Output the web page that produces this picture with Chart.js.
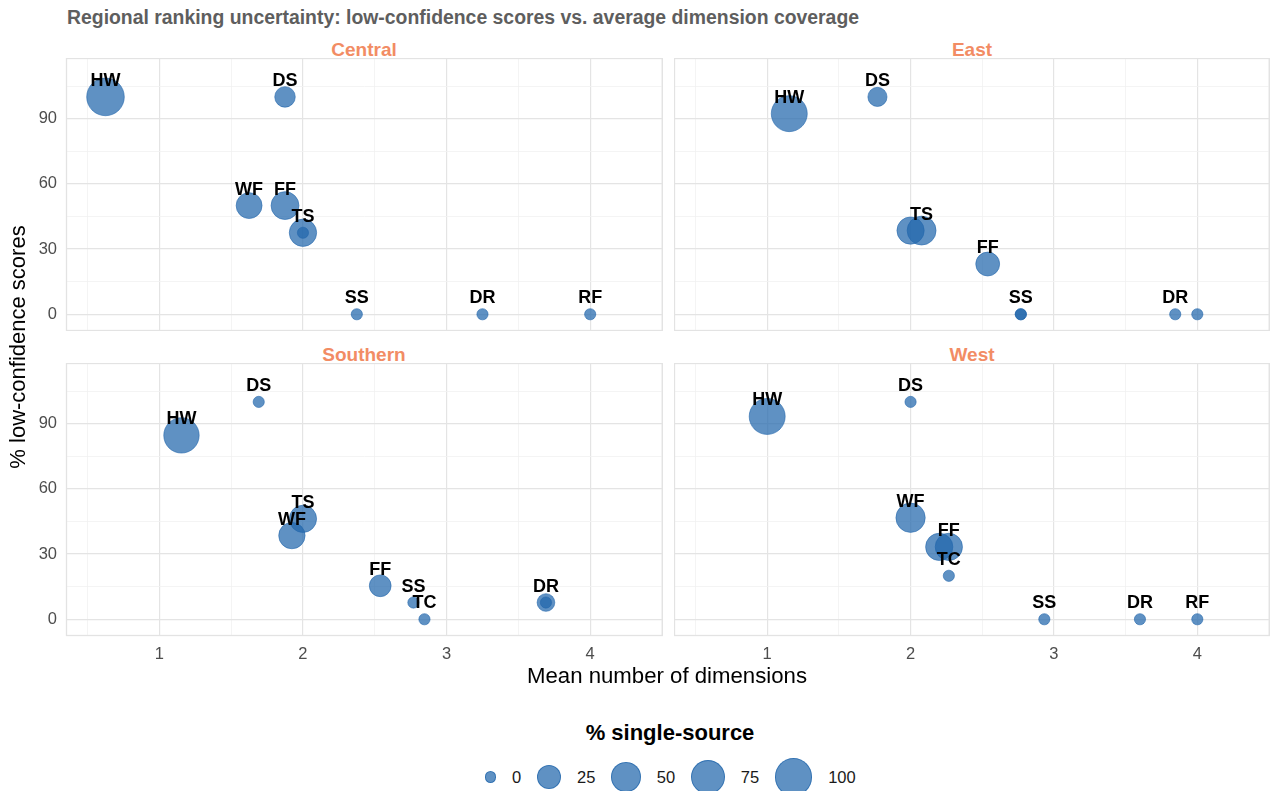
<!DOCTYPE html>
<html>
<head>
<meta charset="utf-8">
<script src="https://cdn.jsdelivr.net/npm/chart.js@4.4.1/dist/chart.umd.min.js"></script>
<style>
  html, body { margin: 0; padding: 0; background: #fff; }
  body { width: 1271px; height: 791px; position: relative; overflow: hidden;
         font-family: "Liberation Sans", Arial, Helvetica, sans-serif; }
  .txt { position: absolute; white-space: nowrap; }
  canvas.panel { position: absolute; }
  #title { left: 67px; top: 5px; line-height: 24px; font-weight: bold; font-size: 19.4px; color: #5e5e5e; }
  .strip { width: 400px; text-align: center; line-height: 24px; font-weight: bold; font-size: 19px; color: #f28c64; }
  #ytitle { left: -132px; top: 335px; width: 300px; text-align: center; line-height: 24px;
            font-size: 22px; color: #000; transform: rotate(-90deg); }
  #xtitle { left: 367px; top: 664px; width: 600px; text-align: center; line-height: 24px; font-size: 22.2px; color: #000; }
  #legtitle { left: 370px; top: 720px; width: 600px; text-align: center; line-height: 26px;
              font-size: 22px; font-weight: bold; color: #000; }
  #legend { position: absolute; left: 178px; width: 1000px; top: 757px; height: 40px;
            display: flex; justify-content: center; align-items: center; }
  .key { border-radius: 50%; box-sizing: border-box; }
  .klab { font-size: 16.5px; color: #1a1a1a; margin: 0 15.5px 0 16px; }
</style>
</head>
<body>
<div class="txt" id="title">Regional ranking uncertainty: low-confidence scores vs. average dimension coverage</div>
<div class="txt strip" style="left:164px; top:38px;">Central</div>
<div class="txt strip" style="left:772px; top:38px;">East</div>
<div class="txt strip" style="left:164px; top:343px;">Southern</div>
<div class="txt strip" style="left:772px; top:343px;">West</div>

<canvas class="panel" id="central" width="663" height="273" style="left:0px; top:58px;"></canvas>
<canvas class="panel" id="east" width="596" height="273" style="left:674px; top:58px;"></canvas>
<canvas class="panel" id="southern" width="663" height="305" style="left:0px; top:363px;"></canvas>
<canvas class="panel" id="west" width="596" height="305" style="left:674px; top:363px;"></canvas>

<div class="txt" id="ytitle">% low-confidence scores</div>
<div class="txt" id="xtitle">Mean number of dimensions</div>
<div class="txt" id="legtitle">% single-source</div>
<div id="legend"></div>

<script>
// ---- data ----
// Central
const centralLabels  = ['HW', 'DS', 'WF', 'FF', 'TS', 'TC', 'SS', 'DR', 'RF'];
const centralDims    = [0.625, 1.875, 1.625, 1.875, 2.0, 2.0, 2.375, 3.25, 4.0];
const centralLowConf = [100, 100, 50, 50, 37.5, 37.5, 0, 0, 0];
const centralSingle  = [100, 12.5, 31, 40, 37.5, 0, 0, 0, 0];
const centralHidden  = ['TC'];

// East
const eastLabels  = ['DS', 'HW', 'WF', 'TS', 'FF', 'SS', 'TC', 'DR', 'RF'];
const eastDims    = [1.769, 1.154, 2.0, 2.077, 2.538, 2.769, 2.769, 3.846, 4.0];
const eastLowConf = [100, 92.3, 38.5, 38.5, 23.1, 0, 0, 0, 0];
const eastSingle  = [9, 88, 37, 45, 23, 0, 0, 0, 0];
const eastHidden  = ['WF', 'TC', 'RF'];

// Southern
const southernLabels  = ['DS', 'HW', 'TS', 'WF', 'FF', 'SS', 'TC', 'DR', 'RF'];
const southernDims    = [1.692, 1.154, 2.0, 1.923, 2.538, 2.769, 2.846, 3.692, 3.692];
const southernLowConf = [100, 84.6, 46.2, 38.5, 15.4, 7.7, 0, 7.7, 7.7];
const southernSingle  = [0, 84, 37, 33, 16, 0, 0, 6, 0];
const southernHidden  = ['RF'];

// West
const westLabels  = ['HW', 'DS', 'WF', 'TS', 'FF', 'TC', 'SS', 'DR', 'RF'];
const westDims    = [1.0, 2.0, 2.0, 2.2, 2.267, 2.267, 2.933, 3.6, 4.0];
const westLowConf = [93.3, 100, 46.7, 33.3, 33.3, 20, 0, 0, 0];
const westSingle  = [88, 0, 47, 37, 37, 0, 0, 0, 0];
const westHidden  = ['TS'];

// axes
const xMajorTicks = [1, 2, 3, 4];
const xMinorTicks = [0.5, 1.5, 2.5, 3.5, 4.5];
const yMajorTicks = [0, 30, 60, 90];
const yMinorTicks = [15, 45, 75, 105];
const X_MIN = 0.35, X_MAX = 4.507;
const Y_MIN = -7.7, Y_MAX = 117.9;

// legend breaks
const sizeBreaks = [0, 25, 50, 75, 100];

// ---- styling ----
const FONT = '"Liberation Sans", Arial, Helvetica, sans-serif';
const FILL = 'rgba(33,102,172,0.72)';
const MAJOR_GRID = '#e4e4e4';
const MINOR_GRID = '#f1f1f1';

// area-style size scale: radius grows with sqrt of the share
function bubbleRadius(pct) {
  return 5.6 + 13.2 * Math.sqrt(pct / 100);
}

// no tick-label overhang padding: keep panels on a fixed grid
function zeroPadding(s) {
  s.paddingTop = 0; s.paddingBottom = 0; s.paddingLeft = 0; s.paddingRight = 0;
}

const panelBorder = {
  id: 'panelBorder',
  beforeDatasetsDraw(chart) {
    const { ctx, chartArea: a } = chart;
    ctx.save();
    ctx.strokeStyle = '#e3e3e3';
    ctx.lineWidth = 1.3;
    ctx.strokeRect(a.left + 0.5, a.top + 0.5, a.right - a.left - 1, a.bottom - a.top - 1);
    ctx.restore();
  }
};

const pointLabels = {
  id: 'pointLabels',
  afterDatasetsDraw(chart, args, opts) {
    const { ctx } = chart;
    const meta = chart.getDatasetMeta(0);
    ctx.save();
    ctx.font = 'bold 18px ' + FONT;
    ctx.fillStyle = '#000';
    ctx.textAlign = 'center';
    ctx.textBaseline = 'alphabetic';
    meta.data.forEach((el, i) => {
      const lab = opts.labels[i];
      if (opts.hidden.includes(lab)) return;
      ctx.fillText(lab, el.x, el.y - 11);
    });
    ctx.restore();
  }
};

function makePanel(canvasId, labels, dims, lowConf, single, hidden, showX, showY) {
  const ctx = document.getElementById(canvasId);
  return new Chart(ctx, {
    type: 'bubble',
    data: {
      datasets: [{
        data: dims.map((x, i) => ({ x, y: lowConf[i], r: bubbleRadius(single[i]) })),
        backgroundColor: FILL,
        borderColor: FILL,
        borderWidth: 0.8,
        hoverRadius: 0,
        clip: false
      }]
    },
    options: {
      responsive: false,
      animation: false,
      events: [],
      layout: { padding: 0, autoPadding: false },
      plugins: {
        legend: { display: false },
        tooltip: { enabled: false },
        pointLabels: { labels, hidden }
      },
      scales: {
        x: {
          type: 'linear',
          min: X_MIN, max: X_MAX,
          afterBuildTicks: s => { s.ticks = xMinorTicks.concat(xMajorTicks).sort((a, b) => a - b).map(v => ({ value: v })); },
          afterFit: s => { s.height = showX ? 32 : 0; zeroPadding(s); },
          border: { display: false },
          grid: {
            drawTicks: false,
            color: c => xMajorTicks.includes(c.tick.value) ? MAJOR_GRID : MINOR_GRID,
            lineWidth: c => xMajorTicks.includes(c.tick.value) ? 1.2 : 0.8
          },
          ticks: {
            display: showX,
            padding: 9,
            color: '#4d4d4d',
            font: { family: FONT, size: 16.5 },
            maxRotation: 0,
            autoSkip: false,
            callback: v => xMajorTicks.includes(v) ? String(v) : ''
          }
        },
        y: {
          type: 'linear',
          min: Y_MIN, max: Y_MAX,
          afterBuildTicks: s => { s.ticks = yMinorTicks.concat(yMajorTicks).sort((a, b) => a - b).map(v => ({ value: v })); },
          afterFit: s => { s.width = showY ? 66 : 0; zeroPadding(s); },
          border: { display: false },
          grid: {
            drawTicks: false,
            color: c => yMajorTicks.includes(c.tick.value) ? MAJOR_GRID : MINOR_GRID,
            lineWidth: c => yMajorTicks.includes(c.tick.value) ? 1.2 : 0.8
          },
          ticks: {
            display: showY,
            padding: 9,
            color: '#4d4d4d',
            font: { family: FONT, size: 16.5 },
            autoSkip: false,
            callback: v => yMajorTicks.includes(v) ? String(v) : ''
          }
        }
      }
    },
    plugins: [panelBorder, pointLabels]
  });
}

makePanel('central', centralLabels, centralDims, centralLowConf, centralSingle, centralHidden, false, true);
makePanel('east', eastLabels, eastDims, eastLowConf, eastSingle, eastHidden, false, false);
makePanel('southern', southernLabels, southernDims, southernLowConf, southernSingle, southernHidden, true, true);
makePanel('west', westLabels, westDims, westLowConf, westSingle, westHidden, true, false);

// size legend
const legend = document.getElementById('legend');
sizeBreaks.forEach(b => {
  const r = bubbleRadius(b);
  const key = document.createElement('div');
  key.className = 'key';
  key.style.width = (2 * r) + 'px';
  key.style.height = (2 * r) + 'px';
  key.style.background = FILL;
  key.style.border = '0.8px solid ' + FILL;
  const lab = document.createElement('span');
  lab.className = 'klab';
  lab.textContent = String(b);
  legend.appendChild(key);
  legend.appendChild(lab);
});
</script>
</body>
</html>
